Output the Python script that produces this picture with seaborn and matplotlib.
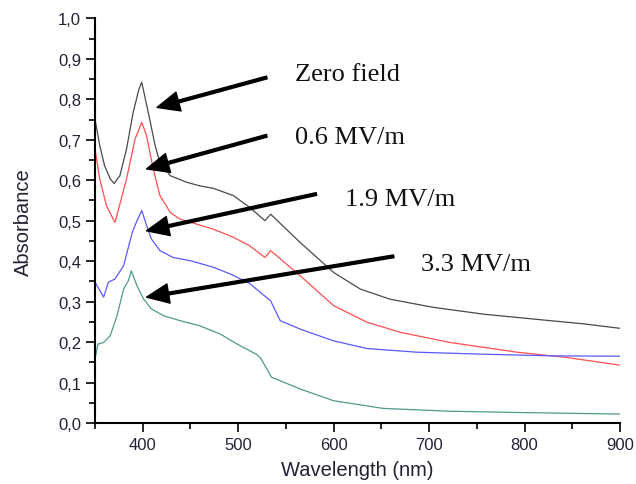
import pandas as pd
import matplotlib
matplotlib.use("Agg")
import matplotlib.pyplot as plt
import seaborn as sns
from matplotlib.ticker import MultipleLocator, FuncFormatter

# spectra
wl_zero = [350, 355, 360, 366, 370, 376, 383, 390, 396, 399, 402, 408, 413, 418, 429, 446, 460,
           474, 495, 512, 528, 534, 565, 600, 628, 659, 704, 757, 809, 862, 900]
abs_zero = [0.751, 0.685, 0.636, 0.603, 0.592, 0.611, 0.677, 0.768, 0.825, 0.842, 0.809, 0.743,
            0.685, 0.644, 0.611, 0.595, 0.586, 0.580, 0.562, 0.533, 0.500, 0.516, 0.446, 0.372,
            0.331, 0.306, 0.286, 0.269, 0.257, 0.245, 0.234]

wl_06 = [350, 355, 362, 369, 371, 383, 392, 399, 404, 411, 418, 429, 439, 474, 495, 512, 528,
         534, 565, 600, 635, 670, 722, 792, 844, 900]
abs_06 = [0.677, 0.603, 0.537, 0.504, 0.496, 0.603, 0.702, 0.743, 0.710, 0.628, 0.562, 0.520,
          0.504, 0.479, 0.459, 0.438, 0.409, 0.426, 0.364, 0.29, 0.249, 0.224, 0.199, 0.175,
          0.162, 0.143]

wl_19 = [350, 359, 364, 371, 380, 389, 394, 399, 404, 409, 418, 432, 450, 474, 492, 512, 523,
         534, 544, 565, 600, 635, 687, 757, 827, 900]
abs_19 = [0.348, 0.311, 0.348, 0.356, 0.389, 0.471, 0.500, 0.525, 0.488, 0.455, 0.426, 0.409,
          0.401, 0.385, 0.368, 0.345, 0.323, 0.302, 0.253, 0.232, 0.203, 0.184, 0.175, 0.170,
          0.166, 0.165]

wl_33 = [350, 353, 359, 366, 373, 380, 385, 388, 394, 401, 409, 422, 439, 460, 481, 502, 519,
         523, 528, 535, 565, 600, 652, 722, 792, 900]
abs_33 = [0.158, 0.195, 0.199, 0.216, 0.265, 0.331, 0.352, 0.376, 0.339, 0.306, 0.282, 0.265,
          0.253, 0.240, 0.220, 0.191, 0.170, 0.162, 0.142, 0.113, 0.084, 0.055, 0.036, 0.029,
          0.026, 0.022]

labels = ["Zero field", "0.6 MV/m", "1.9 MV/m", "3.3 MV/m"]
colors = ["#4a4a4a", "#ff5050", "#5a5aff", "#4f9a8c"]

# arrow tail / head and label anchor, in data units
arrow_tail = [(530, 0.854), (530, 0.710), (582, 0.566), (663, 0.412)]
arrow_head = [(415, 0.780), (404, 0.628), (404, 0.475), (404, 0.311)]
label_pos = [(560, 0.862), (560, 0.707), (612, 0.553), (692, 0.393)]

sns.set_style("ticks")
plt.rcParams["font.family"] = ["Liberation Sans", "DejaVu Sans"]

fig = plt.figure(figsize=(6.36, 4.85), dpi=100)
ax = fig.add_axes([0.1494, 0.1258, 0.8254, 0.8342])

series = [(wl_zero, abs_zero), (wl_06, abs_06), (wl_19, abs_19), (wl_33, abs_33)]
for (wl, ab), lab, col in zip(series, labels, colors):
    sns.lineplot(x=wl, y=ab, color=col, linewidth=0.9, ax=ax, label=lab, legend=False)

for tail, head, pos, lab in zip(arrow_tail, arrow_head, label_pos, labels):
    ax.annotate("", xy=head, xytext=tail,
                arrowprops=dict(facecolor="black", edgecolor="black", width=2.0,
                                headwidth=14, headlength=16, shrink=0))
    ax.text(pos[0], pos[1], lab, fontsize=19, family=["Liberation Serif"],
            va="center", ha="left", color="#111111")

ax.set_xlim(350, 900)
ax.set_ylim(0, 1.0)
ax.xaxis.set_major_locator(MultipleLocator(100))
ax.xaxis.set_minor_locator(MultipleLocator(50))
ax.yaxis.set_major_locator(MultipleLocator(0.1))
ax.yaxis.set_minor_locator(MultipleLocator(0.05))
ax.yaxis.set_major_formatter(FuncFormatter(lambda v, p: f"{v:.1f}".replace(".", ",")))
ax.set_xticks([400, 500, 600, 700, 800, 900])

ax.tick_params(which="major", direction="out", length=6.5, width=1.2, labelsize=12,
               colors="black", labelcolor="#222233")
ax.tick_params(which="minor", direction="out", length=4, width=1.2, colors="black")

sns.despine(ax=ax)
for s in ["left", "bottom"]:
    ax.spines[s].set_linewidth(1.5)
    ax.spines[s].set_color("black")

ax.set_xlabel("Wavelength (nm)", fontsize=14.5, color="#222233", labelpad=6)
ax.set_ylabel("Absorbance", fontsize=14.5, color="#222233", labelpad=18)

fig.savefig("out.png", dpi=100)
